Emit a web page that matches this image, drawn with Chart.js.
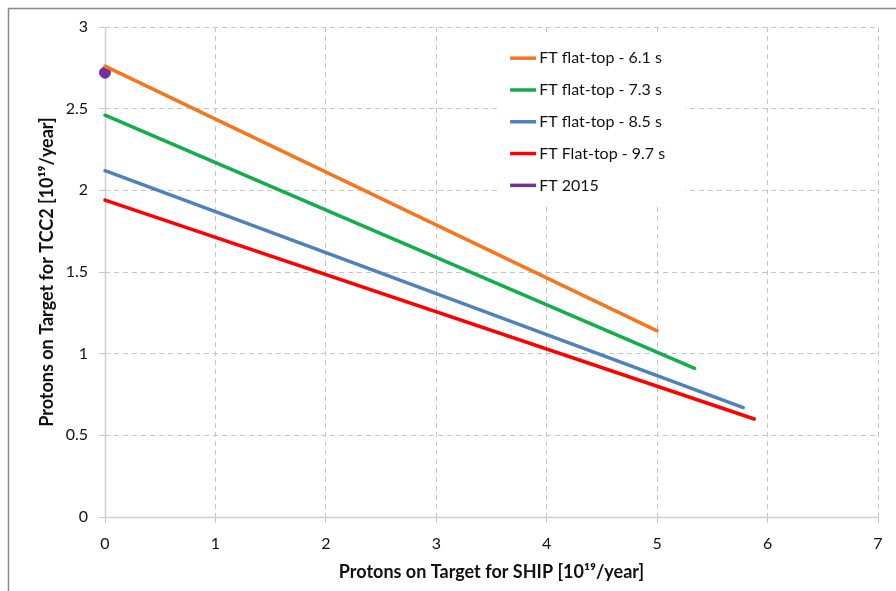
<!DOCTYPE html>
<html>
<head>
<meta charset="utf-8">
<script src="https://cdn.jsdelivr.net/npm/chart.js@4.4.1/dist/chart.umd.min.js"></script>
<style>
  html, body { margin: 0; padding: 0; background: #fff; }
  #wrap { width: 896px; height: 591px; position: relative; }
</style>
</head>
<body>
<div id="wrap"><canvas id="potChart"></canvas></div>
<script>
// series: each flat-top line runs from x=0 to its end point
const seriesNames = ["FT flat-top - 6.1 s", "FT flat-top - 7.3 s", "FT flat-top - 8.5 s", "FT Flat-top - 9.7 s"];
const seriesColors = ["#F5761C", "#12AE4B", "#4F81BD", "#FF0000"];
const xStart = [0, 0, 0, 0];
const yStart = [2.76, 2.46, 2.12, 1.94];
const xEnd = [5.0, 5.34, 5.78, 5.88];
const yEnd = [1.14, 0.91, 0.67, 0.60];

const ft2015Name = "FT 2015";
const ft2015Color = "#7030A0";
const ft2015X = [0];
const ft2015Y = [2.72];

const xTicks = [0, 1, 2, 3, 4, 5, 6, 7];
const yTicks = [0, 0.5, 1, 1.5, 2, 2.5, 3];

const FONT = "Lato, 'Liberation Sans', sans-serif";

const datasets = seriesNames.map((name, i) => ({
  label: name,
  data: [{ x: xStart[i], y: yStart[i] }, { x: xEnd[i], y: yEnd[i] }],
  borderColor: seriesColors[i],
  backgroundColor: seriesColors[i],
  borderWidth: 3.5,
  pointRadius: 0,
  showLine: true,
  borderCapStyle: "round",
  clip: false,
}));
datasets.push({
  label: ft2015Name,
  data: ft2015X.map((x, i) => ({ x: x, y: ft2015Y[i] })),
  borderColor: ft2015Color,
  backgroundColor: ft2015Color,
  pointRadius: 5.5,
  showLine: false,
  clip: false,
});

// outer frame (only top + left edges visible in the original)
const framePlugin = {
  id: "frame",
  beforeDraw(chart) {
    const c = chart.ctx;
    c.save();
    c.strokeStyle = "#8a8a8a";
    c.lineWidth = 1.5;
    c.beginPath();
    c.moveTo(8.5, 600);
    c.lineTo(8.5, 8.5);
    c.lineTo(900, 8.5);
    c.stroke();
    c.restore();
  },
};

// solid axis lines at x=0 and y=0 (grid itself is dashed)
const axisLines = {
  id: "axisLines",
  beforeDatasetsDraw(chart) {
    const { x, y } = chart.scales;
    const c = chart.ctx;
    const px = Math.round(x.getPixelForValue(0)) + 0.5;
    const py = Math.round(y.getPixelForValue(0)) + 0.5;
    c.save();
    c.strokeStyle = "#cfcfcf";
    c.lineWidth = 1.5;
    c.beginPath();
    c.moveTo(px, y.top);
    c.lineTo(px, py);
    c.lineTo(x.right, py);
    c.stroke();
    c.restore();
  },
};

// legend box inside plot, drawn from the datasets
const boxLegend = {
  id: "boxLegend",
  afterDatasetsDraw(chart) {
    const c = chart.ctx;
    const x0 = chart.scales.x.getPixelForValue(3.56);
    const y0 = chart.scales.y.getPixelForValue(2.95);
    c.save();
    c.fillStyle = "#fff";
    c.fillRect(x0, y0, 187, 168);
    c.font = "16px " + FONT;
    c.textBaseline = "middle";
    chart.data.datasets.forEach((ds, i) => {
      const y = y0 + 23 + i * 31.8;
      c.strokeStyle = ds.borderColor;
      c.lineWidth = 3.5;
      c.beginPath();
      c.moveTo(x0 + 12, y);
      c.lineTo(x0 + 38, y);
      c.stroke();
      c.fillStyle = "#111";
      c.fillText(ds.label, x0 + 41, y);
    });
    c.restore();
  },
};

const gridStyle = {
  color: (ctx) => (ctx.tick && ctx.tick.value === 0 ? "rgba(0,0,0,0)" : "#c6c6c6"),
  lineWidth: 1,
  tickLength: 6,
  tickColor: "#c6c6c6",
};

const tickFmt = (v) => String(v);

new Chart(document.getElementById("potChart"), {
  type: "scatter",
  data: { datasets: datasets },
  plugins: [framePlugin, axisLines, boxLegend],
  options: {
    responsive: true,
    maintainAspectRatio: false,
    animation: false,
    layout: { padding: { left: 32, top: 27, right: 18, bottom: 4 } },
    plugins: { legend: { display: false }, tooltip: { enabled: false } },
    scales: {
      x: {
        type: "linear",
        min: 0,
        max: 7,
        afterBuildTicks: (s) => { s.ticks = xTicks.map((v) => ({ value: v })); },
        afterFit: (s) => { s.height = 70; },
        grid: gridStyle,
        border: { display: false, dash: [5, 4] },
        ticks: { color: "#111", padding: 11, callback: tickFmt, font: { family: FONT, size: 16 } },
        title: {
          display: true,
          text: "Protons on Target for SHIP [10\u00B9\u2079/year]",
          color: "#111",
          font: { family: FONT, size: 18, weight: "bold" },
        },
      },
      y: {
        type: "linear",
        min: 0,
        max: 3,
        afterBuildTicks: (s) => { s.ticks = yTicks.map((v) => ({ value: v })); },
        afterFit: (s) => { s.width = 73; },
        grid: gridStyle,
        border: { display: false, dash: [5, 4] },
        ticks: { color: "#111", padding: 11, callback: tickFmt, font: { family: FONT, size: 16 } },
        title: {
          display: true,
          text: "Protons on Target for TCC2 [10\u00B9\u2079/year]",
          color: "#111",
          font: { family: FONT, size: 18, weight: "bold" },
        },
      },
    },
  },
});
</script>
</body>
</html>
